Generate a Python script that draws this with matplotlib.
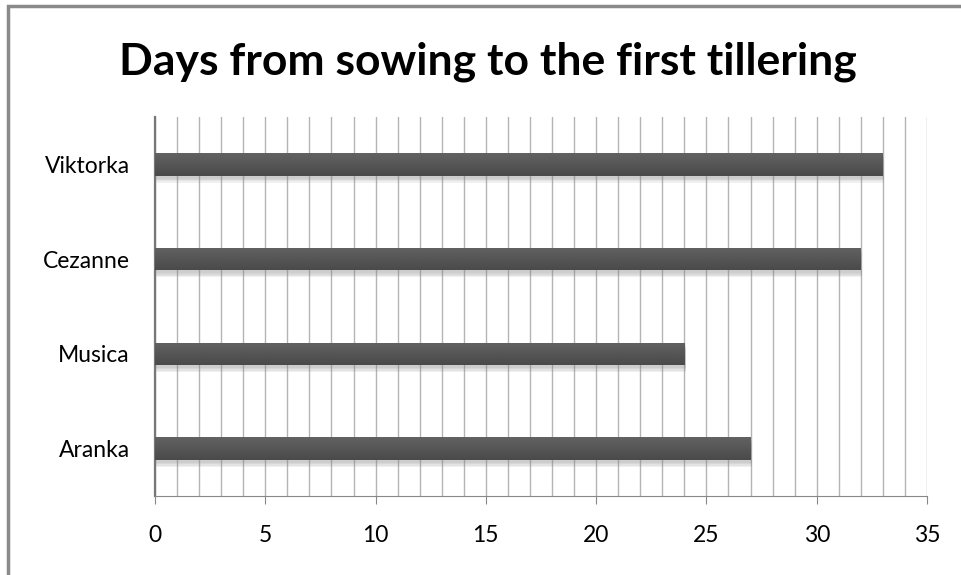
import numpy as np
import matplotlib
matplotlib.use("Agg")
import matplotlib.pyplot as plt
from matplotlib import patheffects
from matplotlib.patches import Rectangle
from matplotlib.colors import LinearSegmentedColormap

varieties = ['Aranka', 'Musica', 'Cezanne', 'Viktorka']
days = [27, 24, 32, 33]
x_ticks = [0, 5, 10, 15, 20, 25, 30, 35]

plt.rcParams['font.family'] = ['Lato', 'DejaVu Sans']

fig = plt.figure(figsize=(9.62, 5.75), dpi=100)
ax = fig.add_axes([155/962, 79/575, 772/962, 379/575])

# chart border (only top and left visible in the frame)
fig.patches.append(Rectangle((8/962, -0.1), 1.2, (575-6)/575 + 0.1, transform=fig.transFigure,
                             fill=False, edgecolor='#8a8a8a', lw=2.5))

y = np.arange(len(varieties))
bars = ax.barh(y, days, height=0.24, color='#545454', zorder=3)

# soft shadow under the bars
shadow = [patheffects.SimplePatchShadow(offset=(1, -k), shadow_rgbFace='#888888', alpha=0.12)
          for k in (5, 4, 3, 2)]
grad = LinearSegmentedColormap.from_list('g', ['#4a4a4a', '#626262'])
for b in bars:
    b.set_path_effects(shadow + [patheffects.Normal()])
    x0, y0 = b.get_x(), b.get_y()
    im = ax.imshow(np.linspace(0, 1, 50).reshape(-1, 1), cmap=grad, aspect='auto',
                   extent=(x0, x0 + b.get_width(), y0, y0 + b.get_height()),
                   origin='lower', zorder=4)
    im.set_clip_path(b)

ax.set_xlim(0, 35)
ax.set_ylim(-0.5, len(varieties) - 0.5)
ax.set_xticks(x_ticks)
ax.set_xticks(np.arange(0, 36, 1), minor=True)
ax.grid(axis='x', which='both', color='#b4b4b4', lw=1, zorder=0)
ax.tick_params(axis='x', which='major', length=6, color='#888888', pad=15, labelsize=16.5)
ax.tick_params(axis='x', which='minor', length=0)
ax.set_yticks(y)
ax.set_yticklabels(varieties)
ax.tick_params(axis='y', length=0, pad=18, labelsize=16.5)

ax.spines['top'].set_visible(False)
ax.spines['right'].set_visible(False)
ax.spines['bottom'].set_color('#888888')
ax.spines['left'].set_color('#777777')
ax.spines['left'].set_linewidth(1.6)

fig.text(488/962, 1 - 62/575, 'Days from sowing to the first tillering', ha='center', va='center',
         fontsize=32, fontweight='bold')

fig.savefig('out.png', dpi=100)
